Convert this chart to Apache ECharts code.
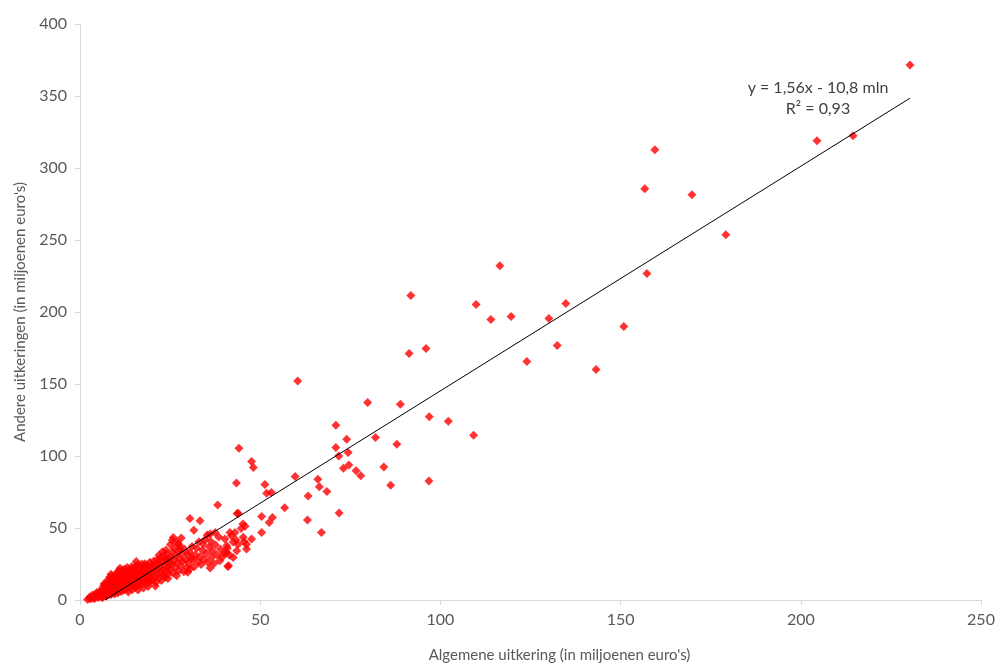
<!DOCTYPE html>
<html>
<head>
<meta charset="utf-8">
<script src="https://cdn.jsdelivr.net/npm/echarts@6/dist/echarts.min.js"></script>
<style>
  html, body { margin: 0; padding: 0; background: #fff; }
  #chart { width: 1002px; height: 668px; }
</style>
</head>
<body>
<div id="chart"></div>
<script>
// gemeenten: algemene uitkering (x) tegen andere uitkeringen (y), mln euro
var pointsSmall = [
    [2.1,0.4],[2.6,1.2],[3.0,0.8],[3.3,2.1],[3.6,1.5],[3.9,2.9],[4.2,1.9],[4.4,3.6],[4.7,2.6],[4.9,4.3],
    [5.1,1.8],[5.3,3.1],[5.6,5.2],[5.8,2.4],[5.9,4.0],[4.0,0.9],[2.8,2.3],[5.4,6.1],[3.5,3.4],[4.6,5.0],
    [6.0,3.3],[6.1,5.8],[6.3,7.2],[6.4,2.5],[6.6,4.6],[6.8,8.4],[6.9,6.1],[7.0,3.8],[7.2,5.4],[7.3,9.6],
    [7.5,7.0],[7.6,4.1],[7.8,11.2],[7.9,6.3],[8.0,8.9],[8.2,5.0],[8.3,10.1],[8.4,7.6],[8.6,12.4],[8.7,4.4],
    [8.8,9.2],[9.0,6.8],[9.1,13.5],[9.2,8.1],[9.3,10.9],[9.5,5.6],[9.6,14.3],[9.7,7.4],[9.8,11.8],[9.9,9.0],
    [6.5,9.8],[7.1,10.6],[8.1,13.0],[8.9,15.2],[9.4,12.7],[6.2,1.6],[7.4,2.8],[8.5,3.6],[9.6,4.2],[7.7,13.7],
    [6.7,11.3],[8.2,15.8],[9.0,16.7],[9.8,17.4],[8.6,17.9]
];
var pointsMid = [
    [10.0,6.2],[10.1,12.5],[10.2,18.6],[10.3,9.4],[10.4,15.1],[10.5,4.8],[10.6,11.0],[10.7,20.3],[10.8,13.7],[10.9,7.9],
    [11.0,16.4],[11.1,22.0],[11.2,10.2],[11.3,14.6],[11.4,5.9],[11.5,18.1],[11.6,12.0],[11.7,8.6],[11.8,20.9],[11.9,15.5],
    [12.0,11.2],[12.1,6.8],[12.2,17.3],[12.3,13.1],[12.4,21.4],[12.5,9.5],[12.6,15.9],[12.7,19.0],[12.8,7.4],[12.9,12.8],
    [13.0,17.7],[13.1,22.6],[13.2,10.4],[13.3,14.2],[13.4,5.6],[13.5,19.8],[13.6,11.9],[13.7,16.6],[13.8,8.8],[13.9,21.0],
    [14.0,13.4],[14.1,17.0],[14.2,9.9],[14.3,23.1],[14.4,15.3],[14.5,7.1],[14.6,19.3],[14.7,12.6],[14.8,18.2],[14.9,10.8],
    [15.0,14.7],[15.1,20.6],[15.2,8.6],[15.3,23.6],[15.4,16.9],[15.5,11.3],[15.6,19.0],[15.7,13.8],[15.8,22.1],[15.9,9.7],
    [16.0,17.5],[16.2,24.4],[16.3,12.4],[16.4,20.0],[16.5,15.2],[16.7,10.5],[16.8,22.8],[16.9,18.3],[17.0,13.0],[17.2,25.0],
    [17.3,16.1],[17.4,20.7],[17.5,11.6],[17.7,23.4],[17.8,14.5],[17.9,18.9],[18.0,25.2],[18.2,12.9],[18.3,21.6],[18.4,16.8],
    [18.6,24.1],[18.7,14.0],[18.8,19.6],[19.0,11.8],[19.1,22.9],[19.2,17.2],[19.4,26.3],[19.5,15.0],[19.6,20.8],[19.8,13.3],
    [19.9,24.0],[16.1,6.9],[17.6,8.3],[18.9,9.4],[15.6,26.8]
];
var pointsLarge = [
    [20.0,18.4],[20.2,23.0],[20.3,14.1],[20.5,27.1],[20.6,20.2],[20.8,16.5],[21.0,24.7],[21.1,12.3],[21.3,21.8],[21.5,28.0],
    [21.6,17.9],[21.8,25.5],[22.0,15.4],[22.1,22.4],[22.3,29.2],[22.5,19.1],[22.6,13.5],[22.8,26.2],[23.0,21.0],[23.1,30.5],
    [23.3,17.0],[23.5,24.3],[23.6,15.8],[23.8,27.8],[24.0,20.1],[24.1,31.7],[24.3,22.6],[24.5,18.0],[24.6,28.6],[24.8,25.0],
    [21.9,31.0],[22.9,33.5],[23.9,34.8],[20.9,9.8],[24.4,14.9],[24.0,28.4],
    [25.0,21.3],[25.2,29.8],[25.4,24.8],[25.6,33.2],[25.8,18.7],[26.0,27.0],[26.2,36.0],[26.4,22.5],[26.6,30.9],[26.8,16.8],
    [27.0,25.9],[27.2,34.3],[27.4,20.3],[27.6,29.0],[27.8,37.4],[28.0,23.8],[28.3,32.0],[28.5,26.7],[28.8,19.6],[29.0,35.2],
    [29.3,28.1],[29.6,22.4],[29.9,19.2],[29.9,31.6],[25.1,38.6],[26.9,40.2],[28.1,43.0],[27.3,39.1],[25.9,43.4],[25.6,41.5],
    [27.7,35.4],
    [30.2,25.4],[30.5,33.0],[30.8,28.9],[31.1,37.1],[31.4,28.4],[31.7,23.1],[32.0,31.5],[32.4,35.9],[32.7,26.6],[33.0,40.4],
    [33.3,30.2],[33.6,24.7],[34.0,34.6],[34.4,28.1],[34.7,42.0],[35.1,32.3],[35.5,26.0],[35.9,36.8],[36.3,40.6],[36.8,33.9],
    [37.2,25.3],[37.6,38.2],[38.0,31.2],[38.5,43.8],[39.0,35.3],[39.5,29.9],[40.2,42.4],[40.9,36.0],[41.5,31.1],[42.0,44.6],
    [43.8,38.5],[44.7,49.6],[45.5,40.5],[30.5,21.5],[30.5,56.6],[33.3,55.0],[31.6,48.5],[38.2,65.9],[37.5,46.9],[35.3,45.1],
    [41.6,46.9],[36.1,45.8],[34.2,38.8],[40.7,37.6],[36.5,29.6],[40.7,33.0],[41.2,23.8],[36.1,22.2],[38.8,27.2],[40.0,32.6],
    [42.5,29.6],[41.0,23.3],[47.6,42.3],[46.2,38.8],[43.0,46.9],[43.3,41.6],[42.5,40.2],[45.3,43.5],[46.2,35.4],[43.5,34.2],
    [45.8,51.3],[45.2,52.7]
];
var pointsOutliers = [
    [43.6,60.1],[43.9,60.3],[50.4,58.0],[53.4,57.3],[52.5,53.9],[50.4,46.9],[63.1,55.5],[67.0,46.9],[71.9,60.5],[56.8,64.0],
    [63.3,72.3],[68.5,75.4],[66.4,78.6],[66.0,83.9],[59.7,85.8],[51.3,80.2],[51.8,74.2],[53.1,74.7],[43.4,81.3],[44.1,105.4],
    [47.6,96.1],[48.1,92.0],[73.1,91.5],[74.6,93.8],[76.6,89.7],[77.9,86.2],[84.3,92.4],[86.2,79.7],[96.8,82.7],[71.0,105.9],
    [74.4,102.4],[71.8,100.0],[87.9,108.1],[71.0,121.3],[74.0,111.6],[82.0,112.8],[79.8,137.1],[88.9,135.9],[96.9,127.3],[102.2,124.1],
    [109.2,114.4],[60.4,152.0],[91.3,171.2],[96.0,174.7],[91.8,211.4],[109.9,205.2],[114.0,194.8],[116.5,232.2],[119.6,196.9],[124.0,165.7],
    [130.1,195.5],[132.4,176.8],[134.8,205.9],[143.2,160.1],[150.9,190.0],[157.3,226.7],[156.7,285.6],[159.5,312.6],[169.8,281.5],[179.2,253.7],
    [204.5,318.9],[214.5,322.4],[230.3,371.6]
];
// trendlijn y = 1,56x - 10,8 (eindpunten)
var trendLine = [[6.9, 0], [230.3, 348.5]];
var trendText = ['y = 1,56x - 10,8 mln', 'R² = 0,93'];

var allPoints = pointsSmall.concat(pointsMid, pointsLarge, pointsOutliers);

var dom = document.getElementById('chart');
var myChart = echarts.init(dom);

var labelColor = '#595959';
var fontFam = 'Lato, "Open Sans", sans-serif';

var option = {
    animation: false,
    textStyle: { fontFamily: fontFam },
    grid: { left: 80, right: 21, top: 24, bottom: 67 },
    xAxis: {
        type: 'value',
        min: 0, max: 250, interval: 50,
        name: "Algemene uitkering (in miljoenen euro's)",
        nameLocation: 'middle',
        nameGap: 48,
        nameTextStyle: { color: labelColor, fontSize: 15, fontFamily: fontFam, padding: [0, 0, 0, 58] },
        axisLine: { lineStyle: { color: '#d9d9d9', width: 1 } },
        axisTick: { show: true, length: 5, lineStyle: { color: '#d9d9d9' } },
        axisLabel: { color: labelColor, fontSize: 16, margin: 12, fontFamily: fontFam },
        splitLine: { show: false }
    },
    yAxis: {
        type: 'value',
        min: 0, max: 400, interval: 50,
        name: "Andere uitkeringen (in miljoenen euro's)",
        nameLocation: 'middle',
        nameGap: 52,
        nameTextStyle: { color: labelColor, fontSize: 15, fontFamily: fontFam },
        axisLine: { show: true, lineStyle: { color: '#d9d9d9', width: 1 } },
        axisTick: { show: true, length: 5, lineStyle: { color: '#d9d9d9' } },
        axisLabel: { color: labelColor, fontSize: 16, margin: 13, fontFamily: fontFam },
        splitLine: { show: false }
    },
    series: [
        {
            name: 'gemeenten',
            type: 'scatter',
            symbol: 'diamond',
            symbolSize: 9,
            itemStyle: { color: '#ff0000' },
            data: allPoints
        },
        {
            name: 'trend',
            type: 'line',
            showSymbol: false,
            z: 5,
            lineStyle: { color: '#000000', width: 1 },
            data: trendLine
        }
    ],
    graphic: [
        {
            type: 'text',
            x: 818, y: 80,
            style: {
                text: trendText[0],
                align: 'center',
                fill: '#404040',
                font: '16px ' + fontFam
            }
        },
        {
            type: 'text',
            x: 818, y: 101,
            style: {
                text: trendText[1],
                align: 'center',
                fill: '#404040',
                font: '16px ' + fontFam
            }
        }
    ]
};

if (option && typeof option === "object") {
    myChart.setOption(option, true);
}
</script>
</body>
</html>
